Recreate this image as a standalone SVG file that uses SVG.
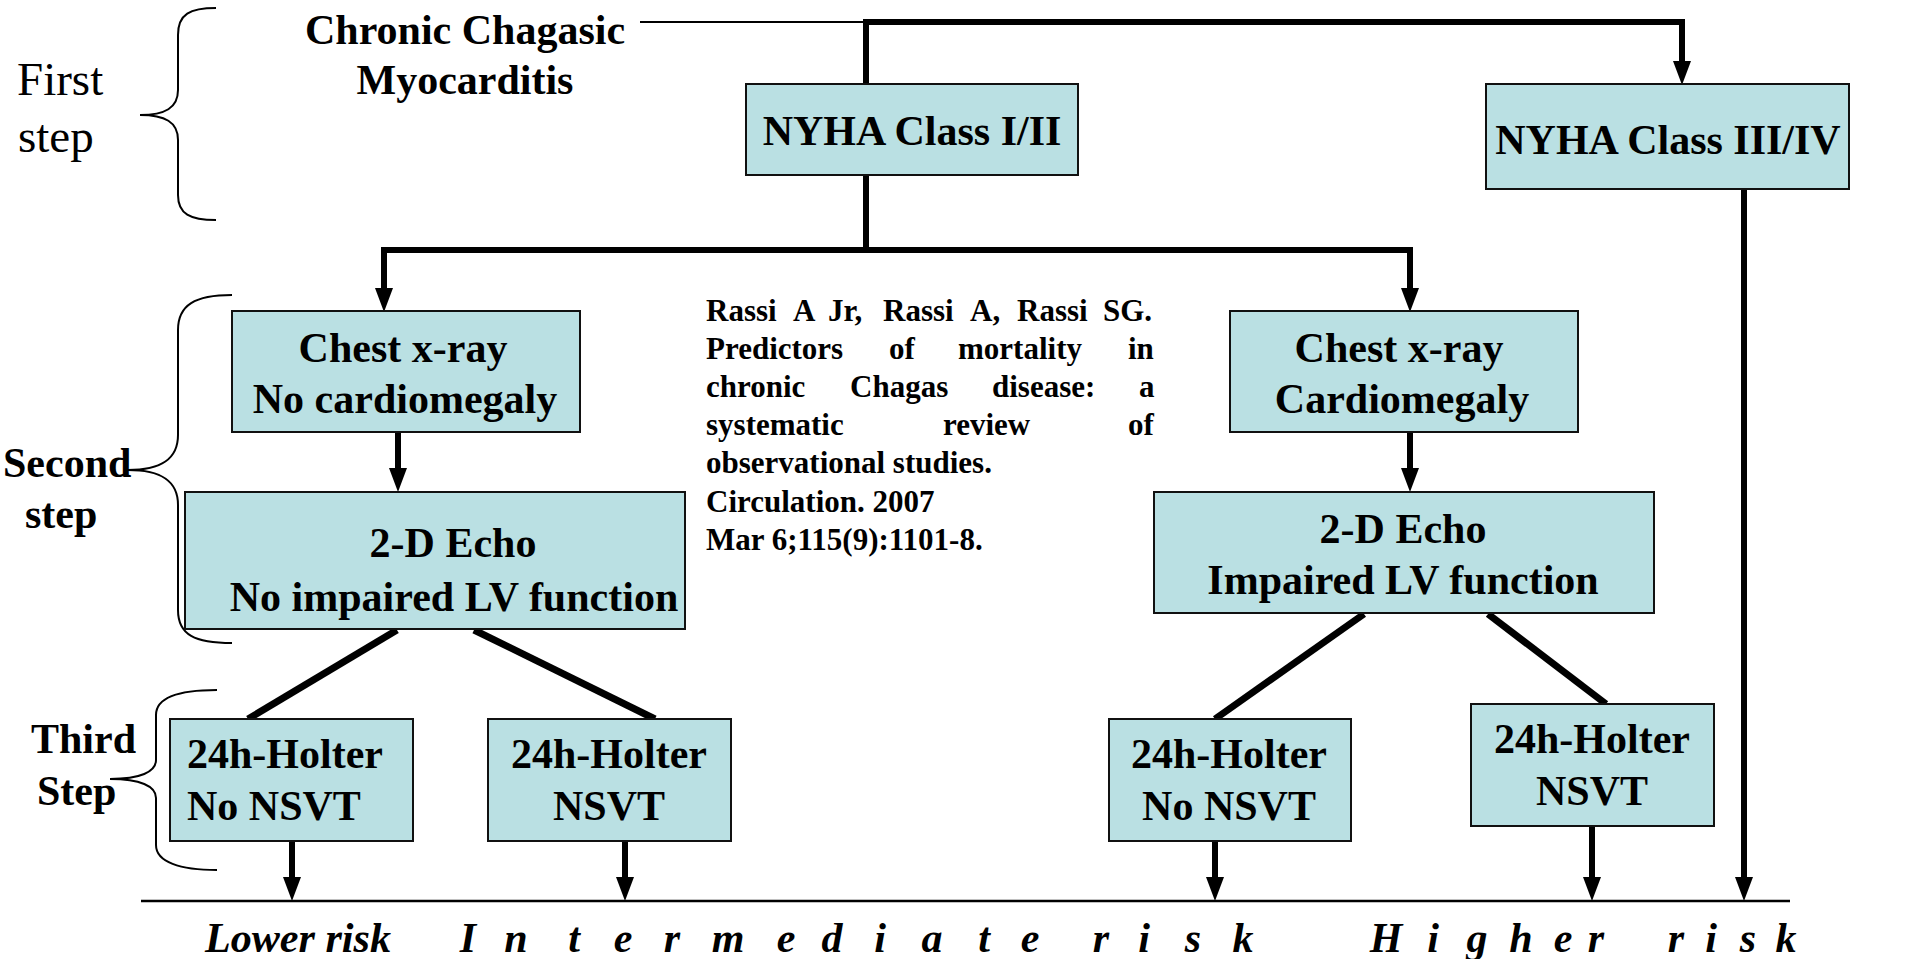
<svg xmlns="http://www.w3.org/2000/svg" width="1911" height="959" viewBox="0 0 1911 959">
<style>
.box{fill:#BAE0E3;stroke:#111;stroke-width:2}
.t{font-family:"Liberation Serif","Times New Roman",serif;font-weight:bold;font-size:42px;fill:#000}
.c{text-anchor:middle}
.lab{font-family:"Liberation Serif","Times New Roman",serif;font-size:47px;fill:#000}
.ref{font-family:"Liberation Serif","Times New Roman",serif;font-weight:bold;font-size:31px;fill:#000}
.risk{font-family:"Liberation Serif","Times New Roman",serif;font-weight:bold;font-style:italic;font-size:42px;fill:#000}
.thick{fill:none;stroke:#000;stroke-width:6}
.diag{fill:none;stroke:#000;stroke-width:7}
.thin{fill:none;stroke:#000;stroke-width:2}
.brace{fill:none;stroke:#000;stroke-width:2}
</style>
<defs>
<marker id="ah" viewBox="0 0 24 18" refX="0" refY="9" markerWidth="24" markerHeight="18" markerUnits="userSpaceOnUse" orient="auto">
<path d="M0,0 L24,9 L0,18 Z" fill="#000"/>
</marker>
</defs>

<g id="labels">
<path class="brace" d="M216,8 C190,8 178,14 178,35 L178,90 C178,108 165,115 140,115 C165,115 178,122 178,140 L178,195 C178,214 190,220 216,220"/>
<text class="lab" x="17" y="95">First</text>
<text class="lab" x="18" y="152">step</text>
<path class="brace" d="M232,295 C195,295 178,305 178,330 L178,435 C178,460 160,470 128,470 C160,470 178,480 178,505 L178,610 C178,635 195,643 232,643"/>
<text class="t" x="3" y="477">Second</text>
<text class="t" x="25" y="528">step</text>
<path class="brace" d="M217,690 C180,690 156,697 156,715 L156,760 C156,772 140,779 110,779 C140,779 156,786 156,798 L156,845 C156,862 180,870 217,870"/>
<text class="t" x="31" y="753">Third</text>
<text class="t" x="37" y="805">Step</text>
</g>

<g id="connectors">
<line class="thin" x1="640" y1="22" x2="866" y2="22"/>
<path class="thick" d="M866,84 V22 H1682 V61" marker-end="url(#ah)"/>
<path class="thick" d="M866,175 V250"/>
<path class="thick" d="M381,250 H1413"/>
<path class="thick" d="M384,250 V288" marker-end="url(#ah)"/>
<path class="thick" d="M1410,250 V288" marker-end="url(#ah)"/>
<path class="thick" d="M398,432 V468" marker-end="url(#ah)"/>
<path class="thick" d="M1410,432 V468" marker-end="url(#ah)"/>
<path class="thick" d="M1744,189 V877" marker-end="url(#ah)"/>
<line class="diag" x1="397" y1="630" x2="248" y2="719"/>
<line class="diag" x1="474" y1="630" x2="655" y2="719"/>
<line class="diag" x1="1364" y1="614" x2="1215" y2="719"/>
<line class="diag" x1="1488" y1="614" x2="1606" y2="704"/>
<path class="thick" d="M292,841 V877" marker-end="url(#ah)"/>
<path class="thick" d="M625,841 V877" marker-end="url(#ah)"/>
<path class="thick" d="M1215,841 V877" marker-end="url(#ah)"/>
<path class="thick" d="M1592,826 V877" marker-end="url(#ah)"/>
<line x1="141" y1="901" x2="1790" y2="901" stroke="#000" stroke-width="2.5"/>
</g>

<g id="start">
<text class="t c" x="465" y="44">Chronic Chagasic</text>
<text class="t c" x="465" y="94">Myocarditis</text>
</g>

<g id="nyha12">
<rect class="box" x="746" y="84" width="332" height="91"/>
<text class="t c" x="912" y="145">NYHA Class I/II</text>
</g>

<g id="nyha34">
<rect class="box" x="1486" y="84" width="363" height="105"/>
<text class="t c" x="1668" y="154">NYHA Class III/IV</text>
</g>

<g id="chestL">
<rect class="box" x="232" y="311" width="348" height="121"/>
<text class="t c" x="403" y="362">Chest x-ray</text>
<text class="t c" x="405" y="413">No cardiomegaly</text>
</g>

<g id="echoL">
<rect class="box" x="185" y="492" width="500" height="137"/>
<text class="t c" x="453" y="557">2-D Echo</text>
<text class="t c" x="454" y="611">No impaired LV function</text>
</g>

<g id="chestR">
<rect class="box" x="1230" y="311" width="348" height="121"/>
<text class="t c" x="1399" y="362">Chest x-ray</text>
<text class="t c" x="1402" y="413">Cardiomegaly</text>
</g>

<g id="echoR">
<rect class="box" x="1154" y="492" width="500" height="121"/>
<text class="t c" x="1403" y="543">2-D Echo</text>
<text class="t c" x="1403" y="594">Impaired LV function</text>
</g>

<g id="holterL1">
<rect class="box" x="170" y="719" width="243" height="122"/>
<text class="t" x="187" y="768">24h-Holter</text>
<text class="t" x="187" y="820">No NSVT</text>
</g>

<g id="holterL2">
<rect class="box" x="488" y="719" width="243" height="122"/>
<text class="t c" x="609" y="768">24h-Holter</text>
<text class="t c" x="609" y="820">NSVT</text>
</g>

<g id="holterR1">
<rect class="box" x="1109" y="719" width="242" height="122"/>
<text class="t c" x="1229" y="768">24h-Holter</text>
<text class="t c" x="1229" y="820">No NSVT</text>
</g>

<g id="holterR2">
<rect class="box" x="1471" y="704" width="243" height="122"/>
<text class="t c" x="1592" y="753">24h-Holter</text>
<text class="t c" x="1592" y="805">NSVT</text>
</g>

<g id="reference">
<text class="ref" y="321"><tspan x="706">Rassi</tspan><tspan x="793">A</tspan><tspan x="828">Jr,</tspan><tspan x="883">Rassi</tspan><tspan x="970">A,</tspan><tspan x="1017">Rassi</tspan><tspan x="1103">SG.</tspan></text>
<text class="ref" y="359"><tspan x="706">Predictors</tspan><tspan x="889">of</tspan><tspan x="958">mortality</tspan><tspan x="1128">in</tspan></text>
<text class="ref" y="397"><tspan x="706">chronic</tspan><tspan x="850">Chagas</tspan><tspan x="992">disease:</tspan><tspan x="1139">a</tspan></text>
<text class="ref" y="435"><tspan x="706">systematic</tspan><tspan x="943">review</tspan><tspan x="1128">of</tspan></text>
<text class="ref" x="706" y="473">observational studies.</text>
<text class="ref" x="706" y="512">Circulation. 2007</text>
<text class="ref" x="706" y="550">Mar 6;115(9):1101-8.</text>
</g>

<g id="risk">
<text class="risk" x="205" y="952" textLength="186" lengthAdjust="spacingAndGlyphs">Lower risk</text>
<text class="risk c" y="952" x="468 516 574 623 672 728 786 832 880 932 984 1030 1065 1101 1144 1193 1243">Intermediate risk</text>
<text class="risk c" y="952" x="1386 1433 1477 1521 1563 1596 1636 1676 1711 1748 1786">Higher risk</text>
</g>
</svg>
